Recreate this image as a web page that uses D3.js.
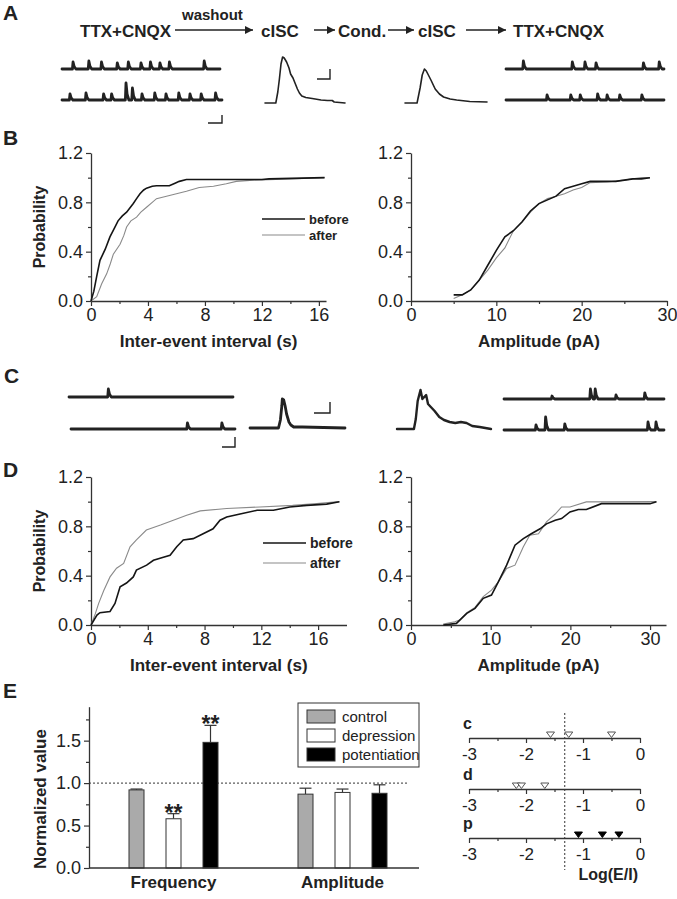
<!DOCTYPE html>
<html><head><meta charset="utf-8"><title>Figure</title>
<script src="https://cdn.jsdelivr.net/npm/d3@7/dist/d3.min.js"></script>
<style>html,body{margin:0;padding:0;background:#fff}svg{display:block}</style>
</head><body>
<svg id="fig" width="677" height="899" viewBox="0 0 677 899"></svg>
<script>
// ================= DATA =================
// Panel A protocol
const flowSteps = ["TTX+CNQX", "cISC", "Cond.", "cISC", "TTX+CNQX"];
const flowArrowNote = "washout";

// spontaneous events in traces: [position (% of sweep), amplitude (pA-like units)]
const aLeftTopEvents = [[7,7],[17,8],[25,7],[35,6],[42,7],[50,6],[56,7],[62,6],[68,7],[90,8]];
const aLeftBottomEvents = [[5,6],[15,7],[26,6],[31,6],[40,17],[44,12],[50,6],[58,7],[65,6],[73,7],[80,6],[87,6],[96,7]];
const aRightTopEvents = [[11,8],[42,7],[50,7],[57,6],[87,6],[97,7]];
const aRightBottomEvents = [[26,5],[41,5],[47,5],[58,6],[64,5],[72,5],[86,5]];
// cISC waveforms: [time %, amplitude]
const aCisc1 = [[0,1],[13.5,1],[16,12],[18,25],[20,40],[22,47],[24,46],[27,42],[30,36],[32,30],[35,26],[38,20],[40.5,15],[43,11],[46,8],[51,6.5],[59,5.5],[70,4],[78,3.5],[84,3.5],[86.5,2],[100,1]];
const aCisc2 = [[0,0],[14.7,0],[18.4,15],[21,28],[23.7,34],[26,32],[31.6,23],[36.8,14],[42,9],[47,6],[55,4],[63,3],[79,1.5],[100,1]];

// Panel C
const cLeftTopEvents = [[24,8]];
const cLeftBottomEvents = [[71,6],[92,6]];
const cRightTopEvents = [[30,3],[54,10],[57,10],[70,4],[88,6]];
const cRightBottomEvents = [[20,5],[26,13],[38,6],[90,8],[95,8]];
const cCisc1 = [[0,0],[30,0],[32,8],[33.5,22],[34,29],[35.5,28],[37,22],[38.5,14],[41,6],[43,3],[46,1],[55,1],[100,0]];
const cCisc2 = [[0,0],[18,0],[20,10],[22,28],[25,39],[27,30],[29,32],[31,34],[33,25],[36,22],[40,18],[45,12],[50,9],[56,7],[62,6],[68,7],[74,6],[80,3],[88,2],[100,0]];

// Panel B cumulative distributions [x, probability]
const bIntervalBefore = [[0,0],[0.2,0.08],[0.4,0.2],[0.63,0.33],[1.0,0.42],[1.33,0.52],[1.6,0.58],[1.9,0.65],[2.2,0.69],[2.5,0.72],[2.97,0.79],[3.2,0.83],[3.44,0.87],[3.7,0.9],[3.9,0.915],[4.3,0.93],[4.6,0.934],[5.5,0.934],[5.9,0.955],[6.2,0.97],[6.7,0.985],[12.0,0.985],[12.5,0.99],[16.4,1.0]];
const bIntervalAfter = [[0,0],[0.4,0.035],[0.75,0.14],[1.1,0.22],[1.35,0.3],[1.57,0.38],[2.04,0.46],[2.3,0.53],[2.5,0.6],[2.8,0.65],[3.2,0.68],[3.5,0.72],[3.9,0.76],[4.3,0.8],[4.6,0.83],[5.3,0.85],[6.0,0.87],[6.7,0.89],[7.6,0.92],[8.6,0.93],[9.5,0.95],[10.2,0.97],[11.4,0.98],[14.0,0.99],[16.4,1.0]];
const bAmpBefore = [[5,0.05],[6,0.05],[7,0.09],[8,0.17],[9,0.29],[10,0.41],[11,0.52],[12,0.57],[13,0.64],[14,0.73],[15,0.79],[16,0.82],[17,0.85],[18,0.91],[19,0.93],[20,0.95],[21,0.97],[22,0.97],[24,0.97],[25,0.98],[26,0.99],[27,0.99],[28,1.0]];
const bAmpAfter = [[5,0.02],[6,0.05],[7,0.09],[8,0.17],[9,0.25],[10,0.35],[11,0.43],[12,0.57],[13,0.64],[14,0.72],[15,0.79],[16,0.83],[17,0.85],[18,0.87],[19,0.9],[20,0.92],[21,0.96],[23,0.965],[25,0.98],[27,1.0],[28,1.0]];

// Panel D cumulative distributions
const dIntervalBefore = [[0,0],[0.42,0.08],[0.63,0.1],[1.34,0.11],[1.69,0.175],[2.05,0.31],[2.5,0.34],[2.98,0.39],[3.2,0.445],[3.92,0.485],[4.4,0.525],[5.1,0.55],[5.57,0.566],[6.04,0.634],[6.5,0.69],[7.2,0.7],[7.9,0.74],[8.6,0.78],[9.09,0.85],[9.56,0.876],[10.5,0.9],[11.7,0.93],[12.85,0.93],[14.0,0.957],[15.2,0.97],[16.6,0.98],[17.5,1.0]];
const dIntervalAfter = [[0,0],[0.3,0.09],[0.54,0.175],[0.9,0.28],[1.34,0.39],[1.8,0.46],[2.3,0.5],[2.75,0.634],[3.2,0.69],[3.9,0.77],[4.9,0.81],[5.8,0.85],[6.74,0.89],[7.7,0.925],[9.56,0.944],[11.9,0.957],[14.2,0.97],[15.9,0.984],[17.5,1.0]];
const dAmpBefore = [[4.05,0],[5.7,0.013],[7.0,0.094],[8.03,0.135],[9.07,0.216],[10.1,0.243],[10.96,0.35],[12.0,0.485],[13.05,0.647],[14.1,0.7],[15.1,0.74],[16.2,0.78],[17.0,0.82],[18.1,0.85],[18.9,0.863],[19.95,0.917],[21,0.936],[22.0,0.936],[23.9,0.984],[30.0,0.984],[30.8,1.0]];
const dAmpAfter = [[4.05,0.008],[5.5,0.027],[6.1,0.04],[7.0,0.1],[8.03,0.143],[9.07,0.23],[10.1,0.283],[10.96,0.35],[12.0,0.458],[13.05,0.485],[14.1,0.634],[14.9,0.728],[16,0.74],[17.0,0.836],[18.1,0.9],[18.9,0.957],[19.95,0.957],[22.0,0.998],[30.8,1.0]];

const probTicks = [0, 0.4, 0.8, 1.2];
const probMinor = [0.2, 0.6, 1.0];
const intervalTicks = [0, 4, 8, 12, 16];
const intervalMinor = [2, 6, 10, 14];
const ampTicks = [0, 10, 20, 30];
const ampMinor = [5, 15, 25];
const legendLabels = ["before", "after"];

// Panel E bars
const eGroups = ["Frequency", "Amplitude"];
const eSeries = ["control", "depression", "potentiation"];
const controlMean = [0.92, 0.87];
const controlErr = [0.01, 0.07];
const depressionMean = [0.58, 0.89];
const depressionErr = [0.06, 0.04];
const potentiationMean = [1.48, 0.88];
const potentiationErr = [0.20, 0.10];
const eSignif = [["depression", "Frequency", "**"], ["potentiation", "Frequency", "**"]];
const eTicks = [0, 0.5, 1.0, 1.5];
const eMinor = [0.25, 0.75, 1.25, 1.75];
const eReference = 1.0;

// Panel E log(E/I) strips
const logRows = ["c", "d", "p"];
const logC = [-1.57, -1.25, -0.5];
const logD = [-2.17, -2.08, -1.67];
const logP = [-1.08, -0.66, -0.37];
const logTicks = [-3, -2, -1, 0];
const logMinor = [-2.5, -1.5, -0.5];
const logThreshold = -1.32;

// ================= DRAWING =================
const FONT = '"Liberation Sans", Arial, Helvetica, sans-serif';
const INK = "#222";
const TICK_FS = 18;
const svg = d3.select("#fig").style("font-family", FONT);
svg.append("rect").attr("width", 677).attr("height", 899).attr("fill", "#fff");

function txt(x, y, s, size, weight, anchor) {
  return svg.append("text").attr("x", x).attr("y", y).text(s)
    .attr("font-size", size).attr("font-weight", weight || "normal")
    .attr("text-anchor", anchor || "start").attr("fill", INK);
}
const hyphenFmt = d => (d < 0 ? "-" + String(Math.abs(d)) : String(d));

// panel letters
txt(3, 20, "A", 21, "bold");
txt(3, 145, "B", 21, "bold");
txt(4, 383, "C", 21, "bold");
txt(3, 477, "D", 21, "bold");
txt(3, 698, "E", 21, "bold");

// arrowhead marker
svg.append("defs").append("marker").attr("id", "ah").attr("viewBox", "0 0 10 10")
  .attr("refX", 10).attr("refY", 5).attr("markerWidth", 10).attr("markerHeight", 8)
  .attr("markerUnits", "userSpaceOnUse").attr("orient", "auto")
  .append("path").attr("d", "M0,0 L10,5 L0,10 Z").attr("fill", INK);

// ---- Panel A protocol line ----
const flowX = [80, 261, 338, 418, 513];
flowSteps.forEach((s, i) => txt(flowX[i], 37, s, 17, "bold"));
txt(182, 20, flowArrowNote, 15, "bold");
const flowArrows = [[175, 253], [314, 335], [388, 414], [466, 506]];
flowArrows.forEach(([a, b]) => svg.append("line").attr("x1", a).attr("x2", b).attr("y1", 30).attr("y2", 30)
  .attr("stroke", INK).attr("stroke-width", 1.5).attr("marker-end", "url(#ah)"));

// ---- traces ----
function drawWave(pts, x0, x1, yb, width) {
  const xs = d3.scaleLinear().domain([0, 100]).range([x0, x1]);
  const ys = d3.scaleLinear().domain([0, 1]).range([yb, yb - 1]);
  svg.append("path").attr("d", d3.line().x(d => xs(d[0])).y(d => ys(d[1]))(pts))
    .attr("fill", "none").attr("stroke", INK).attr("stroke-width", width)
    .attr("stroke-linejoin", "round").attr("stroke-linecap", "round");
}
function spontTrace(events, x0, x1, yb) {
  const pts = [[0, 0]];
  events.slice().sort((a, b) => a[0] - b[0]).forEach(([t, a]) => {
    pts.push([t - 0.4, 0], [t, a], [t + 0.7, a * 0.35], [t + 1.8, 0]);
  });
  pts.push([100, 0]);
  drawWave(pts, x0, x1, yb, 2.8);
}
function scaleBar(x, y, w, h) {
  svg.append("path").attr("d", `M${x - w},${y} L${x},${y} L${x},${y - h}`)
    .attr("fill", "none").attr("stroke", INK).attr("stroke-width", 1.4);
}
spontTrace(aLeftTopEvents, 62, 220, 69);
spontTrace(aLeftBottomEvents, 62, 222, 100);
spontTrace(aRightTopEvents, 506, 664, 69);
spontTrace(aRightBottomEvents, 506, 664, 100);
drawWave(aCisc1, 265, 345, 104, 1.6);
drawWave(aCisc2, 405, 487, 103, 1.6);
scaleBar(222, 123, 14, 8);
scaleBar(330, 79, 13, 10);

spontTrace(cLeftTopEvents, 69, 233, 397);
spontTrace(cLeftBottomEvents, 71, 235, 429);
spontTrace(cRightTopEvents, 504, 664, 399);
spontTrace(cRightBottomEvents, 504, 664, 430);
drawWave(cCisc1, 250, 345, 428, 2.8);
drawWave(cCisc2, 397, 491, 429, 2.4);
scaleBar(235, 447, 13, 10);
scaleBar(330, 413, 16, 11);

// ---- CDF panels ----
function styleAxis(g, fs) {
  g.attr("font-family", FONT).attr("font-size", fs);
  g.selectAll(".domain").attr("stroke", "#333").attr("stroke-width", 1.3);
  g.selectAll(".tick line").attr("stroke", "#333").attr("stroke-width", 1.2);
  g.selectAll(".tick text").attr("fill", INK);
}
function cdfPanel(x, y, xT, xM, yT, yM, series, legendPos, xTitle, yTitle) {
  const y0 = y.range()[0], x0 = x.range()[0];
  const gx = svg.append("g").attr("transform", `translate(0,${y0})`);
  gx.call(d3.axisBottom(x).tickValues(xT).tickSize(5).tickSizeOuter(0).tickPadding(2).tickFormat(d3.format("d")));
  gx.append("g").call(d3.axisBottom(x).tickValues(xM).tickSize(3).tickFormat("")).select(".domain").remove();
  styleAxis(gx, TICK_FS);
  const gy = svg.append("g").attr("transform", `translate(${x0},0)`);
  gy.call(d3.axisLeft(y).tickValues(yT).tickSize(5).tickSizeOuter(0).tickPadding(3).tickFormat(d3.format(".1f")));
  gy.append("g").call(d3.axisLeft(y).tickValues(yM).tickSize(3).tickFormat("")).select(".domain").remove();
  styleAxis(gy, TICK_FS);
  const line = d3.line().x(d => x(d[0])).y(d => y(d[1]));
  const styles = [{c: "#8a8a8a", w: 1.1}, {c: "#151515", w: 1.6}];
  [series[1], series[0]].forEach((s, i) => {
    svg.append("path").attr("d", line(s)).attr("fill", "none")
      .attr("stroke", styles[i].c).attr("stroke-width", styles[i].w);
  });
  if (legendPos) {
    legendLabels.forEach((lab, i) => {
      const ly = legendPos.ys[i];
      svg.append("line").attr("x1", legendPos.x).attr("x2", legendPos.x + 43).attr("y1", ly).attr("y2", ly)
        .attr("stroke", i === 0 ? "#151515" : "#8a8a8a").attr("stroke-width", i === 0 ? 1.6 : 1.1);
      txt(legendPos.x + 47, ly + 4.5, lab, legendPos.fs, "bold");
    });
  }
  const xr = x.range();
  txt((xr[0] + xr[1]) / 2, y0 + 46, xTitle, 17, "bold", "middle");
  if (yTitle) {
    svg.append("text").attr("transform", `translate(45,${(y.range()[0] + y.range()[1]) / 2}) rotate(-90)`)
      .attr("text-anchor", "middle").attr("font-size", 16).attr("font-weight", "bold").attr("fill", INK).text(yTitle);
  }
}
const yB = d3.scaleLinear().domain([0, 1.2]).range([301, 153]);
const xBL = d3.scaleLinear().domain([0, 16.5]).range([91, 326]);
const xBR = d3.scaleLinear().domain([0, 30]).range([411, 667]);
cdfPanel(xBL, yB, intervalTicks, intervalMinor, probTicks, probMinor, [bIntervalBefore, bIntervalAfter],
  {x: 262, ys: [219, 235], fs: 13}, "Inter-event interval (s)", "Probability");
cdfPanel(xBR, yB, ampTicks, ampMinor, probTicks, probMinor, [bAmpBefore, bAmpAfter], null, "Amplitude (pA)", null);

const yD = d3.scaleLinear().domain([0, 1.2]).range([625, 477]);
const xDL = d3.scaleLinear().domain([0, 18]).range([91, 346.5]);
const xDR = d3.scaleLinear().domain([0, 32]).range([411, 666]);
cdfPanel(xDL, yD, intervalTicks, intervalMinor, probTicks, probMinor, [dIntervalBefore, dIntervalAfter],
  {x: 263, ys: [543, 563], fs: 14}, "Inter-event interval (s)", "Probability");
cdfPanel(xDR, yD, ampTicks, ampMinor, probTicks, probMinor, [dAmpBefore, dAmpAfter], null, "Amplitude (pA)", null);

// ---- Panel E bars ----
const yE = d3.scaleLinear().domain([0, 1.9]).range([868, 868 - 1.9 * 84.9]);
const xE = d3.scaleBand().domain(eGroups).range([89, 427]);
const xIn = d3.scaleBand().domain(eSeries).range([-55.5, 55.5]);
const means = {control: controlMean, depression: depressionMean, potentiation: potentiationMean};
const errs = {control: controlErr, depression: depressionErr, potentiation: potentiationErr};
const fills = {control: "#aaaaaa", depression: "#ffffff", potentiation: "#000000"};
const BW = 15;
const cx = (g, s) => xE(g) + xE.bandwidth() / 2 + xIn(s) + xIn.bandwidth() / 2;

svg.append("line").attr("x1", 89).attr("x2", 408).attr("y1", yE(eReference)).attr("y2", yE(eReference))
  .attr("stroke", "#333").attr("stroke-width", 1).attr("stroke-dasharray", "2,2");

eSeries.forEach(s => {
  eGroups.forEach((g, gi) => {
    const m = means[s][gi], e = errs[s][gi], c = cx(g, s);
    svg.append("line").attr("x1", c).attr("x2", c).attr("y1", yE(m)).attr("y2", yE(m + e))
      .attr("stroke", "#333").attr("stroke-width", 1.2);
    svg.append("line").attr("x1", c - 6).attr("x2", c + 6).attr("y1", yE(m + e)).attr("y2", yE(m + e))
      .attr("stroke", "#333").attr("stroke-width", 1.2);
    svg.append("rect").attr("x", c - BW / 2).attr("y", yE(m)).attr("width", BW).attr("height", yE(0) - yE(m))
      .attr("fill", fills[s]).attr("stroke", "#333").attr("stroke-width", 1);
  });
});
eSignif.forEach(([s, g, mark]) => {
  const gi = eGroups.indexOf(g);
  txt(cx(g, s), yE(means[s][gi] + errs[s][gi]) + 7, mark, 23, "bold", "middle");
});
const gyE = svg.append("g").attr("transform", "translate(89,0)");
gyE.call(d3.axisLeft(yE).tickValues(eTicks).tickSize(5).tickSizeOuter(0).tickPadding(3).tickFormat(d3.format(".1f")));
gyE.append("g").call(d3.axisLeft(yE).tickValues(eMinor).tickSize(3).tickFormat("")).select(".domain").remove();
styleAxis(gyE, TICK_FS);
const gxE = svg.append("g").attr("transform", "translate(0,868)");
gxE.call(d3.axisBottom(xE).tickSize(0).tickPadding(8));
gxE.select(".domain").remove();
styleAxis(gxE, 17);
gxE.selectAll(".tick text").attr("font-weight", "bold");
svg.append("line").attr("x1", 89).attr("x2", 419).attr("y1", 868).attr("y2", 868)
  .attr("stroke", "#333").attr("stroke-width", 1.3);
svg.append("text").attr("transform", "translate(46,799) rotate(-90)").attr("text-anchor", "middle")
  .attr("font-size", 17).attr("font-weight", "bold").attr("fill", INK).text("Normalized value");
svg.append("rect").attr("x", 298).attr("y", 703).attr("width", 121).attr("height", 64)
  .attr("fill", "#fff").attr("stroke", "#333").attr("stroke-width", 1);
eSeries.forEach((s, i) => {
  const ly = 710 + i * 19;
  svg.append("rect").attr("x", 307).attr("y", ly).attr("width", 28).attr("height", 13)
    .attr("fill", fills[s]).attr("stroke", "#333").attr("stroke-width", 1);
  txt(342, ly + 11.5, s, 15, "normal");
});

// ---- Log(E/I) strips ----
const xL = d3.scaleLinear().domain([-3, 0]).range([469, 640]);
const rowY = [738, 789, 838];
const rowVals = [logC, logD, logP];
const rowFill = ["#fff", "#fff", "#000"];
svg.append("line").attr("x1", xL(logThreshold)).attr("x2", xL(logThreshold)).attr("y1", 713).attr("y2", 870)
  .attr("stroke", "#333").attr("stroke-width", 1).attr("stroke-dasharray", "2,2");
logRows.forEach((r, i) => {
  const yy = rowY[i];
  const g = svg.append("g").attr("transform", `translate(0,${yy})`);
  g.call(d3.axisBottom(xL).tickValues(logTicks).tickSize(5).tickSizeOuter(0).tickPadding(5).tickFormat(hyphenFmt));
  g.append("g").call(d3.axisBottom(xL).tickValues(logMinor).tickSize(3).tickFormat("")).select(".domain").remove();
  styleAxis(g, 17);
  txt(463, yy - 9, r, 16, "bold");
  rowVals[i].forEach(v => {
    const px = xL(v);
    svg.append("path").attr("d", `M${px - 4},${yy - 6} L${px + 4},${yy - 6} L${px},${yy - 0.5} Z`)
      .attr("fill", rowFill[i]).attr("stroke", i < 2 ? "#555" : "#000").attr("stroke-width", 1);
  });
});
txt(638, 880, "Log(E/I)", 16, "bold", "end");
</script>
</body></html>
